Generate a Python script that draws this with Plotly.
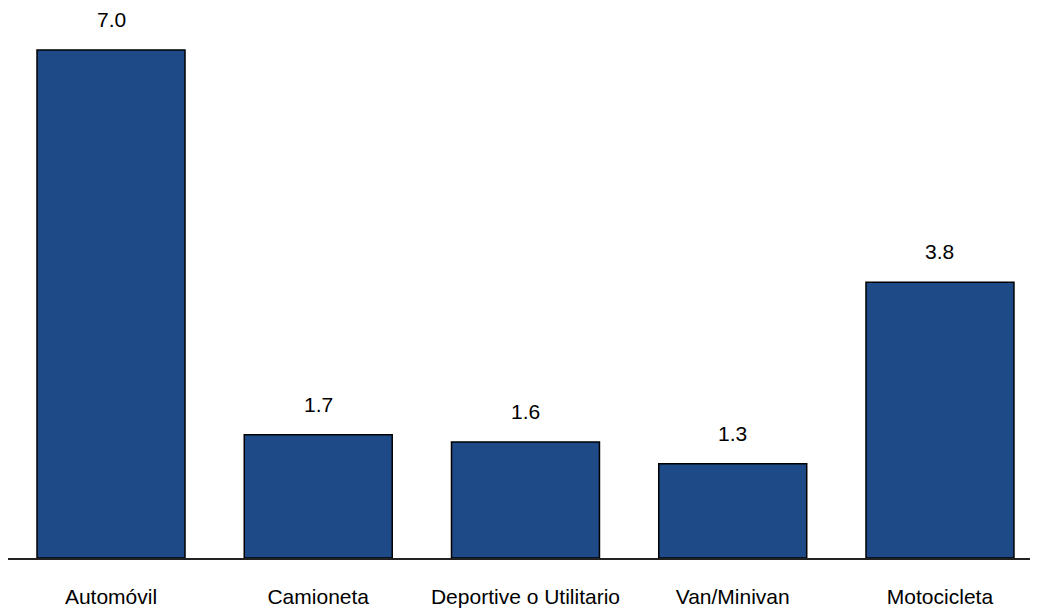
import plotly.graph_objects as go

categorias = ['Automóvil', 'Camioneta', 'Deportive o Utilitario', 'Van/Minivan', 'Motocicleta']
valores = [7.0, 1.7, 1.6, 1.3, 3.8]
etiquetas = ['7.0', '1.7', '1.6', '1.3', '3.8']

fuente = 'Liberation Sans Narrow, Arial Narrow, Liberation Sans, sans-serif'

fig = go.Figure()
fig.add_trace(go.Bar(
    x=categorias, y=valores,
    marker=dict(color='#1E4A88', line=dict(color='#000000', width=1.5)),
    width=0.714,
    hoverinfo='skip',
))

for c, v, t in zip(categorias, valores, etiquetas):
    fig.add_annotation(x=c, y=v, text=t, showarrow=False, yanchor='bottom',
                       yshift=17, font=dict(family=fuente, size=21, color='#000000'))

# la pagina deja 8px de margen arriba y a la izquierda
fig.update_layout(
    width=1030, height=605,
    margin=dict(l=0, r=0, t=0, b=55),
    plot_bgcolor='white', paper_bgcolor='white',
    showlegend=False,
    font=dict(family=fuente, size=21, color='#000000'),
)
fig.update_xaxes(range=[-0.497, 4.473], showline=True, linecolor='#222222', linewidth=1.5,
                 ticks='outside', ticklen=19, tickcolor='rgba(0,0,0,0)',
                 tickfont=dict(family=fuente, size=21, color='#000000'))
fig.update_yaxes(range=[0, 7.58], visible=False, showgrid=False)

fig.write_html("out.html")
